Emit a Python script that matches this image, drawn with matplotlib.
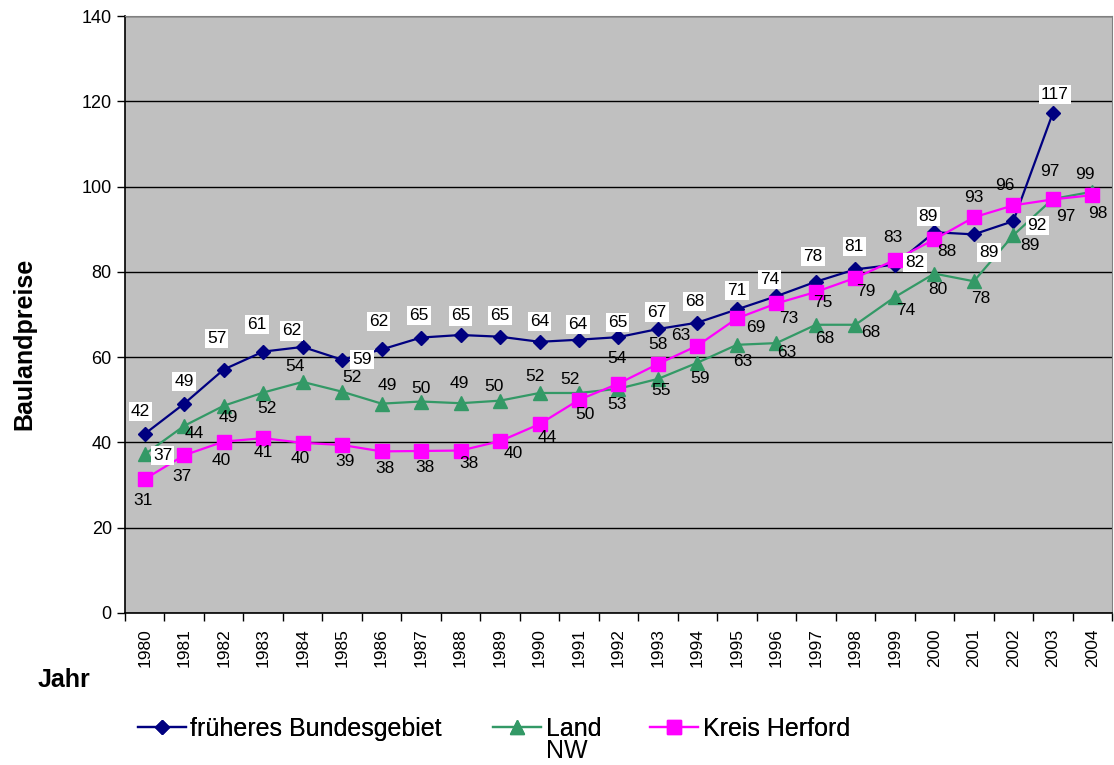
import matplotlib
matplotlib.use('Agg')
import matplotlib.pyplot as plt
import numpy as np

plt.rcParams['font.family'] = ['Liberation Sans', 'DejaVu Sans']

# Baulandpreise je Jahr
jahre = [str(j) for j in range(1980, 2005)]
bund = [42.0, 49.1, 57.1, 61.3, 62.4, 59.4, 61.8, 64.6, 65.2, 64.8, 63.6, 64.1,
        64.7, 66.6, 68.1, 71.2, 74.3, 77.7, 80.6, 81.7, 89.3, 88.8, 91.9, 117.2,
        np.nan]
land_nw = [37.2, 43.9, 48.6, 51.7, 54.2, 51.9, 49.1, 49.6, 49.2, 49.8, 51.6,
           51.6, 52.6, 54.9, 58.7, 62.9, 63.3, 67.6, 67.6, 74.1, 79.6, 77.8,
           88.6, 97.1, 98.8]
herford = [31.4, 37.0, 40.2, 41.0, 39.9, 39.4, 37.9, 38.0, 38.1, 40.3, 44.3,
           50.0, 53.8, 58.4, 62.7, 69.1, 72.6, 75.3, 78.6, 82.8, 87.6, 92.8,
           95.6, 97.0, 98.0]

# Versatz der Beschriftungen (px, nach rechts / nach unten)
bund_off = [(-4, -22), (0, -22), (-7, -31), (-6, -27), (-11, -16), (20, 0),
            (-3, -28), (-2, -22), (0, -19), (0, -21), (0, -20), (-1, -15),
            (-1, -15), (-1, -17), (-3, -21), (0, -19), (-7, -17), (-3, -25),
            (-1, -23), (20, -2), (-6, -16), (15, 18), (24, 4), (2, -19), (0, 0)]
land_off = [(18, 1), (10, 8), (5, 12), (4, 16), (-8, -15), (10, -14),
            (6, -18), (0, -13), (-1, -20), (-6, -14), (-5, -16), (-9, -13),
            (-2, 16), (3, 12), (3, 16), (6, 17), (10, 9), (9, 14), (15, 8),
            (11, 13), (4, 16), (7, 17), (17, 10), (-3, -27), (-7, -17)]
herford_off = [(-2, 21), (-2, 21), (-2, 19), (0, 14), (-2, 16), (3, 16),
               (3, 17), (4, 17), (8, 13), (13, 12), (8, 13), (6, 15),
               (-2, -25), (0, -19), (-17, -10), (19, 9), (12, 15), (7, 11),
               (10, 14), (-2, -22), (13, 12), (0, -20), (-8, -20), (13, 17),
               (6, 18)]

fig = plt.figure(figsize=(11.14, 7.65), dpi=100)
ax = fig.add_axes([0.1122, 0.1987, 0.886, 0.7803])
ax.set_facecolor('#c0c0c0')

x = np.arange(len(jahre))
l1, = ax.plot(x, bund, color='#000080', lw=1.6, marker='D', ms=7,
              label='früheres Bundesgebiet', zorder=3)
l2, = ax.plot(x, land_nw, color='#339966', lw=1.6, marker='^', ms=10,
              label='Land', zorder=3)
l3, = ax.plot(x, herford, color='#ff00ff', lw=1.6, marker='s', ms=10,
              label='Kreis Herford', zorder=3)


def beschriften(werte, offsets, weiss=()):
    for i, (v, (dx, dy)) in enumerate(zip(werte, offsets)):
        if np.isnan(v):
            continue
        box = None
        if i in weiss:
            box = dict(boxstyle='square,pad=0.12', fc='white', ec='none')
        ax.annotate(f'{v:.0f}', (i, v), xytext=(dx, -dy),
                    textcoords='offset pixels', ha='center', va='center',
                    fontsize=12.5, color='black', bbox=box, zorder=5)


beschriften(bund, bund_off, weiss=range(len(jahre)))
beschriften(land_nw, land_off, weiss=(0,))
beschriften(herford, herford_off)

ax.set_xlim(-0.5, len(jahre) - 0.5)
ax.set_ylim(0, 140)
ax.set_yticks(np.arange(0, 141, 20))
ax.set_xticks(x)
ax.set_xticklabels(jahre, rotation=90, fontsize=12.5)
ax.set_xticks(np.arange(-0.5, len(jahre)), minor=True)
ax.tick_params(axis='x', which='major', length=0, pad=11)
ax.tick_params(axis='x', which='minor', length=6, width=1, direction='out')
ax.tick_params(axis='y', labelsize=13, length=6, width=1, direction='out')
ax.grid(axis='y', color='black', lw=1)
ax.set_axisbelow(True)

for s in ('top', 'right'):
    ax.spines[s].set_color('#808080')
for s in ('left', 'bottom'):
    ax.spines[s].set_color('black')
    ax.spines[s].set_linewidth(1.2)

fig.text(0.022, 0.55, 'Baulandpreise', rotation=90, ha='center', va='center',
         fontsize=18, fontweight='bold')
fig.text(0.034, 0.111, 'Jahr', ha='left', va='center', fontsize=18,
         fontweight='bold')

# Legende: jeder Eintrag einzeln platziert
y_leg = 1 - 729 / 765
for h, xl in ((l1, 138), (l2, 493), (l3, 650)):
    leg = fig.legend(handles=[h], loc='center left',
                     bbox_to_anchor=(xl / 1114, y_leg), frameon=False,
                     fontsize=18, handlelength=1.9, handletextpad=0.2,
                     borderpad=0, borderaxespad=0)
    fig.add_artist(leg)
fig.text(546 / 1114, 1 - 751 / 765, 'NW', ha='left', va='center', fontsize=18)

fig.savefig('out.png', dpi=100)
plt.close(fig)
